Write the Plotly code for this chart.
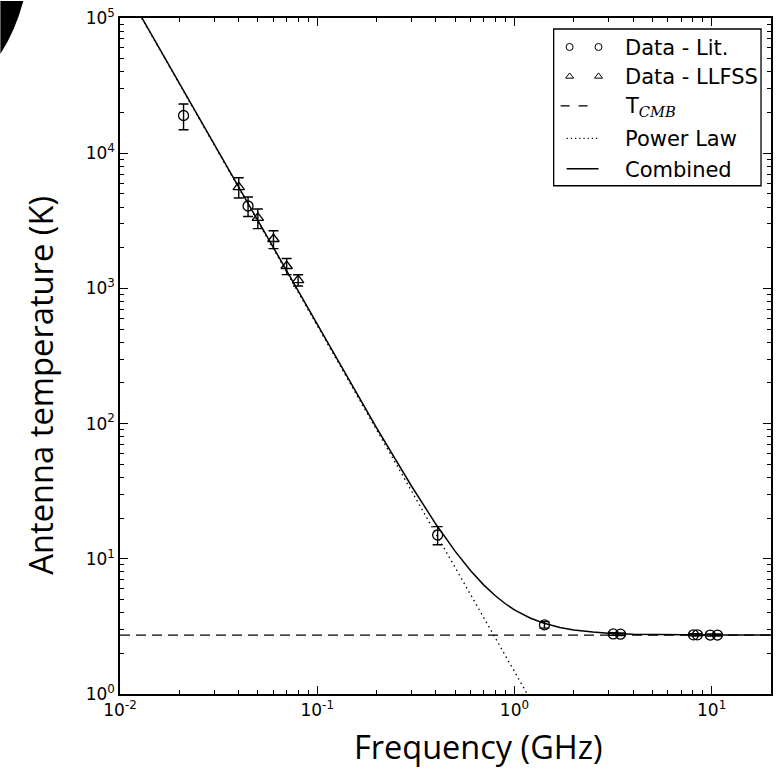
import plotly.graph_objects as go

# ---- data ----
lit_freq = [0.021, 0.0446, 0.408, 1.42, 3.17, 3.45, 8.09, 8.47, 9.84, 10.7]
lit_temp = [19000, 4070, 15.0, 3.25, 2.78, 2.77, 2.74, 2.74, 2.73, 2.73]
lit_err = [4100, 670, 2.3, 0.18, 0.06, 0.06, 0.05, 0.05, 0.05, 0.05]

llfss_freq = [0.040, 0.050, 0.060, 0.070, 0.080]
llfss_temp = [5620, 3320, 2320, 1465, 1153]
llfss_err = [960, 550, 350, 200, 110]

tcmb_freq = [0.01, 20.0]
tcmb_temp = [2.725, 2.725]

pl_freq = [0.0129, 1.2]
pl_temp = [100000, 0.92]

comb_freq = [0.0125, 0.02, 0.05, 0.1, 0.2, 0.3, 0.4, 0.5, 0.6, 0.7, 0.8, 0.9, 1.0,
             1.2, 1.4, 1.7, 2.0, 2.5, 3.0, 4.0, 6.0, 10.0, 20.0]
comb_temp = [109000, 32800, 3150, 536, 93.1, 34.7, 18.0, 11.4, 8.16, 6.39, 5.33, 4.65, 4.19,
             3.65, 3.35, 3.10, 2.97, 2.87, 2.81, 2.77, 2.74, 2.729, 2.726]

x_major = [0.01, 0.1, 1, 10]
x_major_text = ["10<sup>-2</sup>", "10<sup>-1</sup>", "10<sup>0</sup>", "10<sup>1</sup>"]
y_major = [1, 10, 100, 1000, 10000, 100000]
y_major_text = ["10<sup>0</sup>", "10<sup>1</sup>", "10<sup>2</sup>", "10<sup>3</sup>",
                "10<sup>4</sup>", "10<sup>5</sup>"]

x_minor = [m * d for d in [0.01, 0.1, 1, 10] for m in range(2, 10) if m * d <= 20]
y_minor = [m * d for d in [1, 10, 100, 1000, 10000] for m in range(2, 10)]

legend_labels = ["Data - Lit.", "Data - LLFSS",
                 'T<sub><span style="font-family:DejaVu Serif;font-style:italic">CMB</span></sub>',
                 "Power Law", "Combined"]

# ---- layout geometry (pixels) ----
W, H = 779, 770
L, R, T, B = 120, 6, 17, 76
PW, PH = W - L - R, H - T - B
PX_LEFT, PX_RIGHT, PX_TOP, PX_BOT = L, W - R, T, H - B


def px_x(p):
    return (p - L) / PW


def px_y(p):
    return (PX_BOT - p) / PH


fig = go.Figure()

fig.add_trace(go.Scatter(
    x=lit_freq, y=lit_temp, mode="markers", name=legend_labels[0], showlegend=False,
    marker=dict(symbol="circle-open", size=10, color="black", line=dict(width=1.3)),
    error_y=dict(type="data", array=lit_err, color="black", thickness=1.4, width=5),
))
fig.add_trace(go.Scatter(
    x=llfss_freq, y=llfss_temp, mode="markers", name=legend_labels[1], showlegend=False,
    marker=dict(symbol="triangle-up-open", size=10, color="black", line=dict(width=1.3)),
    error_y=dict(type="data", array=llfss_err, color="black", thickness=1.4, width=5),
))
fig.add_trace(go.Scatter(
    x=tcmb_freq, y=tcmb_temp, mode="lines", name=legend_labels[2], showlegend=False,
    line=dict(color="black", width=1.3, dash="10px,6px"),
))
fig.add_trace(go.Scatter(
    x=pl_freq, y=pl_temp, mode="lines", name=legend_labels[3], showlegend=False,
    line=dict(color="black", width=1.3, dash="1.5px,3.5px"),
))
fig.add_trace(go.Scatter(
    x=comb_freq, y=comb_temp, mode="lines", name=legend_labels[4], showlegend=False,
    line=dict(color="black", width=1.5),
))

# ---- custom legend (matplotlib style, two markers per entry) on a pixel overlay axis ----
leg_box = dict(x0=555, x1=763, y0=28, y1=185)
row_y = [46, 75.5, 105, 137.5, 168]
text_x = 625
hx = [571, 600]
fig.add_trace(go.Scatter(x=hx, y=[row_y[0]] * 2, xaxis="x2", yaxis="y2", mode="markers",
                         showlegend=False, cliponaxis=False, hoverinfo="skip",
                         marker=dict(symbol="circle-open", size=7, color="black",
                                     line=dict(width=1))))
fig.add_trace(go.Scatter(x=hx, y=[row_y[1]] * 2, xaxis="x2", yaxis="y2", mode="markers",
                         showlegend=False, cliponaxis=False, hoverinfo="skip",
                         marker=dict(symbol="triangle-up-open", size=7, color="black",
                                     line=dict(width=1))))
fig.add_trace(go.Scatter(x=[562, 571, None, 580, 589], y=[row_y[2]] * 2 + [None] + [row_y[2]] * 2,
                         xaxis="x2", yaxis="y2", mode="lines", showlegend=False,
                         cliponaxis=False, hoverinfo="skip",
                         line=dict(color="black", width=1.3)))
fig.add_trace(go.Scatter(x=[568, 600], y=[row_y[3]] * 2, xaxis="x2", yaxis="y2", mode="lines",
                         showlegend=False, cliponaxis=False, hoverinfo="skip",
                         line=dict(color="black", width=1.2, dash="1.2px,3px")))
fig.add_trace(go.Scatter(x=[568, 600], y=[row_y[4]] * 2, xaxis="x2", yaxis="y2", mode="lines",
                         showlegend=False, cliponaxis=False, hoverinfo="skip",
                         line=dict(color="black", width=1.5)))

axis_common = dict(
    type="log", showgrid=False, zeroline=False, showline=True, linecolor="black",
    linewidth=1.5, mirror="ticks", ticks="inside", ticklen=8, tickwidth=1.2,
    tickcolor="black", tickmode="array",
    tickfont=dict(family="DejaVu Sans", size=17, color="black"),
)

fig.update_layout(
    xaxis=dict(**axis_common, range=[-2, 1.30103], tickvals=x_major, ticktext=x_major_text,
               minor=dict(tickvals=x_minor, ticks="inside", ticklen=4, tickwidth=1,
                          tickcolor="black", showgrid=False)),
    yaxis=dict(**axis_common, range=[0, 5], tickvals=y_major, ticktext=y_major_text,
               minor=dict(tickvals=y_minor, ticks="inside", ticklen=4, tickwidth=1,
                          tickcolor="black", showgrid=False)),
    xaxis2=dict(overlaying="x", range=[PX_LEFT, PX_RIGHT], visible=False, fixedrange=True),
    yaxis2=dict(overlaying="y", range=[PX_BOT, PX_TOP], visible=False, fixedrange=True),
    width=W, height=H,
    margin=dict(l=L, r=R, t=T, b=B),
    paper_bgcolor="white", plot_bgcolor="white",
    showlegend=False,
)

annotations = [
    dict(text="Frequency (GHz)", xref="paper", yref="paper",
         x=px_x(480), y=px_y(747), xanchor="center", yanchor="middle",
         showarrow=False, font=dict(family="Open Sans", size=32.5, color="black")),
    dict(text="Antenna temperature (K)", xref="paper", yref="paper",
         x=px_x(40), y=px_y(385), xanchor="center", yanchor="middle",
         textangle=-90, showarrow=False,
         font=dict(family="Open Sans", size=32.7, color="black")),
]
for lab, yy in zip(legend_labels, row_y):
    annotations.append(dict(text=lab, xref="x2", yref="y2", x=text_x, y=yy + 1,
                            xanchor="left", yanchor="middle", showarrow=False,
                            font=dict(family="DejaVu Sans", size=21, color="black")))

shapes = [
    dict(type="rect", xref="x2", yref="y2", layer="below", **leg_box,
         fillcolor="white", line=dict(color="black", width=1.3)),
    dict(type="path", xref="paper", yref="paper", layer="above",
         path="M %.4f,%.4f L %.4f,%.4f Q %.4f,%.4f %.4f,%.4f Z" % (
             px_x(0), px_y(0), px_x(23), px_y(0), px_x(15), px_y(30), px_x(0), px_y(53)),
         fillcolor="black", line=dict(width=0)),
]
fig.update_layout(annotations=annotations, shapes=shapes)

fig.write_html("out.html")
